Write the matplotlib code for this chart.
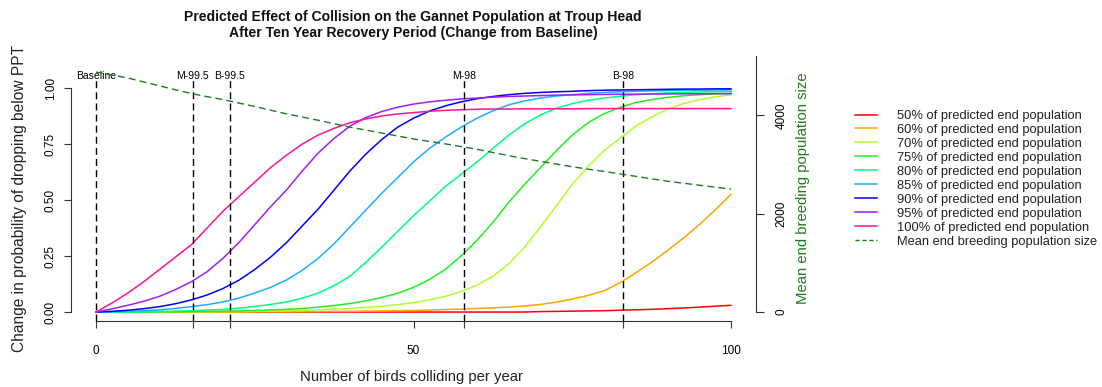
import numpy as np
import matplotlib
matplotlib.use("Agg")
import matplotlib.pyplot as plt
from matplotlib.lines import Line2D

plt.rcParams['font.family'] = ['Liberation Sans', 'DejaVu Sans']

# birds colliding per year (0, 2.5, ..., 100)
birds = np.arange(0, 100.1, 2.5)

# change in probability of dropping below PPT, one list per threshold
p50 = [0] * 28 + [0.002, 0.003, 0.004, 0.005, 0.006, 0.008, 0.01, 0.012, 0.015, 0.018, 0.022, 0.026, 0.03]
p60 = [0] * 10 + [0.001, 0.001, 0.001, 0.002, 0.002, 0.003, 0.003, 0.004, 0.005, 0.006,
                  0.007, 0.009, 0.011, 0.013, 0.016, 0.019, 0.022, 0.027, 0.034, 0.044,
                  0.058, 0.074, 0.095, 0.13, 0.175, 0.222, 0.275, 0.33, 0.39, 0.455, 0.525]
p70 = [0, 0, 0, 0, 0, 0.001, 0.001, 0.001, 0.002, 0.002,
       0.003, 0.004, 0.005, 0.007, 0.01, 0.013, 0.016, 0.021, 0.026, 0.033,
       0.042, 0.054, 0.07, 0.092, 0.12, 0.16, 0.215, 0.29, 0.38, 0.475,
       0.57, 0.65, 0.72, 0.775, 0.83, 0.87, 0.905, 0.93, 0.948, 0.96, 0.97]
p75 = [0, 0, 0, 0, 0.001, 0.001, 0.002, 0.003, 0.004, 0.005,
       0.007, 0.009, 0.012, 0.016, 0.022, 0.029, 0.038, 0.05, 0.065, 0.084,
       0.11, 0.145, 0.19, 0.25, 0.32, 0.40, 0.49, 0.57, 0.645, 0.72,
       0.79, 0.845, 0.885, 0.913, 0.935, 0.948, 0.958, 0.965, 0.97, 0.973, 0.976]
p80 = [0, 0, 0.001, 0.002, 0.003, 0.004, 0.006, 0.009, 0.012, 0.017,
       0.025, 0.034, 0.045, 0.062, 0.085, 0.118, 0.16, 0.222, 0.29, 0.36,
       0.43, 0.495, 0.56, 0.615, 0.67, 0.73, 0.79, 0.84, 0.88, 0.91,
       0.93, 0.945, 0.955, 0.963, 0.97, 0.974, 0.978, 0.98, 0.982, 0.984, 0.985]
p85 = [0, 0.001, 0.003, 0.006, 0.01, 0.016, 0.024, 0.033, 0.045, 0.062,
       0.085, 0.11, 0.143, 0.187, 0.24, 0.305, 0.38, 0.455, 0.53, 0.60,
       0.67, 0.73, 0.78, 0.825, 0.865, 0.898, 0.925, 0.942, 0.955, 0.964,
       0.97, 0.976, 0.98, 0.983, 0.985, 0.987, 0.988, 0.989, 0.99, 0.991, 0.992]
p90 = [0, 0.003, 0.008, 0.015, 0.024, 0.037, 0.054, 0.076, 0.105, 0.142,
       0.19, 0.245, 0.31, 0.385, 0.46, 0.545, 0.63, 0.705, 0.77, 0.825,
       0.865, 0.897, 0.92, 0.938, 0.952, 0.962, 0.97, 0.976, 0.98, 0.983,
       0.985, 0.988, 0.99, 0.991, 0.992, 0.993, 0.994, 0.995, 0.995, 0.996, 0.996]
p95 = [0, 0.014, 0.03, 0.048, 0.07, 0.1, 0.135, 0.18, 0.24, 0.31,
       0.39, 0.47, 0.545, 0.63, 0.71, 0.775, 0.83, 0.868, 0.895, 0.914,
       0.928, 0.938, 0.945, 0.951, 0.955, 0.959, 0.962, 0.964, 0.966, 0.968,
       0.969, 0.970, 0.971, 0.972, 0.972, 0.973, 0.973, 0.974, 0.974, 0.975, 0.975]
p100 = [0, 0.04, 0.085, 0.135, 0.19, 0.245, 0.30, 0.375, 0.45, 0.515,
        0.58, 0.645, 0.70, 0.75, 0.79, 0.82, 0.845, 0.862, 0.875, 0.884,
        0.89, 0.896, 0.90, 0.903, 0.905, 0.906, 0.906, 0.907, 0.907, 0.907,
        0.907, 0.908, 0.908, 0.908, 0.908, 0.908, 0.908, 0.908, 0.908, 0.908, 0.908]

# mean end breeding population size
pop = [4880, 4820, 4760, 4680, 4600, 4520, 4445, 4380, 4320, 4250,
       4180, 4105, 4030, 3965, 3900, 3830, 3760, 3700, 3640, 3580,
       3520, 3470, 3420, 3365, 3310, 3245, 3180, 3120, 3065, 3010,
       2955, 2905, 2860, 2810, 2760, 2710, 2660, 2620, 2580, 2540, 2500]

# reference collision levels
ref_x = [0, 15.2, 21.1, 58, 83]
ref_lab = ["Baseline", "M-99.5", "B-99.5", "M-98", "B-98"]

series = [p50, p60, p70, p75, p80, p85, p90, p95, p100]
labels = ["50% of predicted end population", "60% of predicted end population",
          "70% of predicted end population", "75% of predicted end population",
          "80% of predicted end population", "85% of predicted end population",
          "90% of predicted end population", "95% of predicted end population",
          "100% of predicted end population"]
colors = ["#FF0000", "#FFA500", "#ADFF2F", "#22EE22", "#00FF7F",
          "#1EAFFF", "#0000FF", "#A020F0", "#FF1493"]
popcol = "#1E7B1E"

W, H = 1102, 387
fig = plt.figure(figsize=(W / 100, H / 100), dpi=100)
# plot region in pixels (left, top, right, bottom)
L, T, R, B = 70.6, 79, 756.4, 321
ax = fig.add_axes([L / W, 1 - B / H, (R - L) / W, (B - T) / H])
ax.set_xlim(-4, 104)
ax.set_ylim(-0.04, 1.04)

for s, c in zip(series, colors):
    ax.plot(birds, s, color=c, lw=1.1)

for xv, lab in zip(ref_x, ref_lab):
    ax.axvline(xv, color="black", lw=1, ls=(0, (5, 3)))
    ax.text(xv, 1.055, lab, ha="center", va="center", fontsize=7.5, clip_on=False)

for sp in ["top", "right"]:
    ax.spines[sp].set_visible(False)
ax.spines["left"].set_bounds(0, 1)
ax.spines["bottom"].set_bounds(0, 100)
ax.set_yticks([0, 0.25, 0.5, 0.75, 1.0])
ax.set_yticklabels(["0.00", "0.25", "0.50", "0.75", "1.00"], rotation=90, va="center")
ax.set_xticks([0, 50, 100])
ax.set_xticks(ref_x[1:], minor=True)
ax.tick_params(axis="both", which="both", length=5, width=0.8, labelsize=8.5, color="#333333")
ax.tick_params(axis="y", pad=5)
ax.tick_params(axis="x", pad=12)
ax.spines["left"].set_color("#333333")
ax.spines["bottom"].set_color("#333333")

ax2 = ax.twinx()
ax2.set_ylim(-182, 4739)
ax2.plot(birds, pop, color=popcol, lw=1, ls=(0, (5, 3)), clip_on=False)
for sp in ["top", "left", "bottom"]:
    ax2.spines[sp].set_visible(False)
ax2.spines["right"].set_bounds(0, 5200)
ax2.spines["right"].set_color("#333333")
ax2.set_yticks([0, 2000, 4000])
ax2.set_yticklabels(["0", "2000", "4000"], rotation=90, va="center")
ax2.tick_params(axis="y", length=6, width=0.8, labelsize=8.5, pad=8, color="#333333")

fig.text(412 / W, 1 - 377 / H, "Number of birds colliding per year", ha="center", va="center",
         fontsize=10.7, color="#222222")
fig.text(20 / W, 1 - 198 / H, "Change in probability of dropping below PPT", ha="center", va="center",
         rotation=90, fontsize=11.2, color="#222222")
fig.text(803 / W, 1 - 188 / H, "Mean end breeding population size", ha="center", va="center",
         rotation=90, fontsize=10.7, color=popcol)
fig.text(413 / W, 1 - 17.5 / H, "Predicted Effect of Collision on the Gannet Population at Troup Head",
         ha="center", va="center", fontsize=10.1, fontweight="bold", color="#111111")
fig.text(413 / W, 1 - 32.5 / H, "After Ten Year Recovery Period (Change from Baseline)",
         ha="center", va="center", fontsize=10.1, fontweight="bold", color="#111111")

handles = [Line2D([], [], color=c, lw=1.1) for c in colors]
handles.append(Line2D([], [], color=popcol, lw=1, ls=(0, (3, 2))))
leg = fig.legend(handles, labels + ["Mean end breeding population size"],
                 loc="upper left", bbox_to_anchor=(855 / W, 1 - 110 / H),
                 frameon=False, fontsize=9.3, handlelength=1.7, handletextpad=1.55,
                 labelspacing=0.15, borderpad=0, borderaxespad=0)
for t in leg.get_texts():
    t.set_color("#222222")

fig.savefig("out.png", dpi=100)
